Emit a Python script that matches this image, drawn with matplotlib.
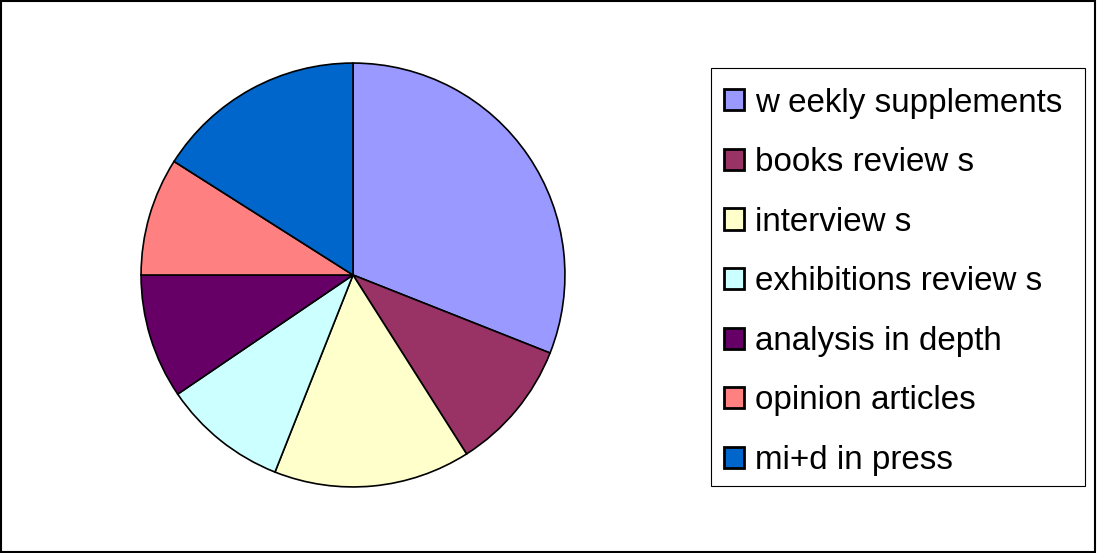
import matplotlib
matplotlib.use("Agg")
import matplotlib.pyplot as plt
from matplotlib.patches import Rectangle

categories = ["w eekly supplements", "books review s", "interview s",
              "exhibitions review s", "analysis in depth", "opinion articles",
              "mi+d in press"]
values = [31, 10, 15, 9.5, 9.5, 9, 16]
colors = ["#9999FF", "#993366", "#FFFFCC", "#CCFFFF", "#660066", "#FF8080", "#0066CC"]

plt.rcParams['font.family'] = ['Liberation Sans', 'DejaVu Sans']

W, H = 1097, 553
fig = plt.figure(figsize=(W / 100, H / 100), dpi=100)
fig.patch.set_facecolor("white")

cx, cy, r = 353, 275, 213
ax = fig.add_axes([(cx - r) / W, (H - cy - r) / H, 2 * r / W, 2 * r / H])
wedges, _ = ax.pie(values, colors=colors, startangle=90, counterclock=False,
                   radius=1, wedgeprops=dict(edgecolor="black", linewidth=1.2))
ax.set_xlim(-1.005, 1.005)
ax.set_ylim(-1.005, 1.005)
ax.axis("off")

# legend frame
lx0, ly0, lx1, ly1 = 711, 68, 1085, 486
fig.add_artist(Rectangle((lx0 / W, 1 - ly1 / H), (lx1 - lx0) / W, (ly1 - ly0) / H,
                         transform=fig.transFigure, fill=True, facecolor="white",
                         edgecolor="black", linewidth=0.8))

leg = fig.legend(wedges, categories, loc="upper left",
                 bbox_to_anchor=(711 / W, 1 - 75 / H),
                 fontsize=23.9, frameon=False,
                 handlelength=0.6, handleheight=0.6, handletextpad=0.35,
                 labelspacing=0.86, borderpad=0.38, borderaxespad=0)
leg.set_zorder(5)
for h in leg.legend_handles:
    h.set_linewidth(2)

fig.add_artist(Rectangle((0.001, 0.002), 0.997, 0.996, transform=fig.transFigure,
                         fill=False, edgecolor="black", linewidth=1.5))

fig.savefig("out.png", dpi=100)
